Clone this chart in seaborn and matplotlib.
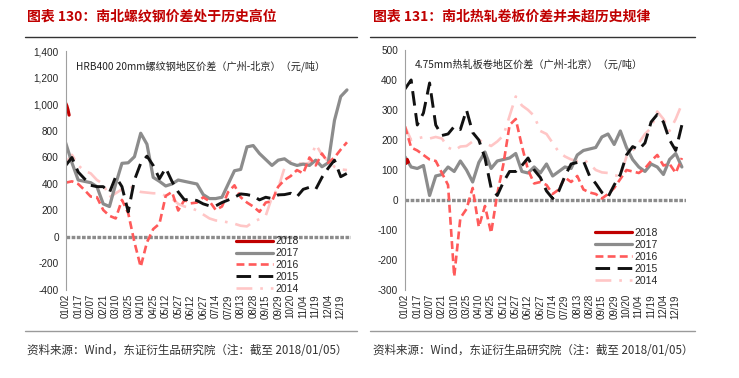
import numpy as np
import pandas as pd
import matplotlib
matplotlib.use("Agg")
import matplotlib.pyplot as plt
from matplotlib.lines import Line2D
import seaborn as sns

# ------------------------------------------------------------------
# Data. One sample every half tick interval,
# i.e. about every 5.5 trading days; ticks every 11 trading days.
# ------------------------------------------------------------------
tick_labels = ["01/02", "01/17", "02/07", "02/21", "03/10", "03/25", "04/10", "04/25",
               "05/12", "05/27", "06/12", "06/27", "07/14", "07/29", "08/13", "08/28",
               "09/15", "09/29", "10/20", "11/04", "11/19", "12/04", "12/19"]
years = ["2018", "2017", "2016", "2015", "2014"]

# 2018 only has the first four trading days
days_2018 = [0, 1, 2, 3]

# rebar spread (Guangzhou - Beijing), yuan/t
rebar_2018 = [1010, 990, 960, 920]
rebar_2017 = [710, 560, 430, 420, 410, 380, 250, 230, 400, 556, 560, 606, 783, 700, 450, 420,
              385, 400, 430, 420, 410, 400, 320, 290, 290, 300, 400, 500, 510, 680, 690, 630,
              585, 540, 580, 590, 556, 540, 550, 540, 580, 530, 560, 880, 1060, 1110]
rebar_2016 = [410, 420, 400, 355, 305, 300, 204, 160, 140, 280, 180, -40, -225, -40, 60, 100,
              310, 340, 200, 280, 254, 260, 300, 270, 204, 230, 340, 390, 300, 260, 230, 190,
              260, 270, 380, 430, 460, 505, 480, 600, 540, 630, 560, 600, 660, 715]
rebar_2015 = [540, 600, 490, 440, 390, 380, 380, 335, 455, 380, 190, 430, 556, 610, 540, 440,
              520, 420, 340, 280, 285, 275, 250, 235, 235, 260, 279, 300, 325, 320, 310, 280,
              300, 290, 318, 320, 330, 304, 360, 375, 360, 450, 520, 580, 455, 480]
rebar_2014 = [560, 620, 540, 500, 480, 430, 400, 300, 330, 360, 380, 370, 340, 335, 330, 330,
              310, 290, 250, 230, 220, 200, 170, 140, 125, 120, 110, 100, 85, 80, 115, 135,
              160, 300, 370, 520, 570, 560, 550, 560, 700, 620, 570, 530, 510, 505]

# hot rolled coil spread (Guangzhou - Beijing), yuan/t
hrc_2018 = [130, 122, 135, 126]
hrc_2017 = [144, 110, 105, 115, 15, 80, 85, 110, 95, 130, 100, 60, 125, 160, 105, 130,
            135, 140, 155, 95, 90, 110, 90, 120, 80, 95, 110, 105, 150, 165, 170, 175,
            210, 220, 185, 230, 175, 135, 110, 95, 120, 110, 85, 135, 155, 110]
hrc_2016 = [245, 175, 165, 150, 135, 130, 90, 50, -255, -60, -30, 40, -90, -20, -110, 20,
            120, 250, 270, 180, 100, 55, 60, 50, 20, 35, 75, 60, 80, 35, 25, 20,
            5, 20, 40, 70, 100, 95, 90, 105, 130, 150, 115, 120, 90, 140]
hrc_2015 = [370, 400, 250, 290, 390, 250, 215, 220, 245, 235, 300, 225, 200, 140, 40, 15,
            60, 95, 95, 115, 140, 100, 75, 30, 5, 30, 80, 120, 125, 130, 80, 55,
            25, 10, 50, 85, 150, 178, 168, 190, 260, 285, 260, 200, 165, 250]
hrc_2014 = [245, 200, 205, 210, 205, 210, 205, 175, 165, 178, 180, 195, 200, 190, 180, 195,
            215, 280, 345, 315, 300, 280, 230, 220, 190, 160, 145, 135, 130, 135, 120, 100,
            92, 90, 82, 80, 145, 165, 190, 220, 240, 295, 270, 230, 270, 320]

days = np.arange(len(rebar_2017)) * 5.5
tick_pos = np.arange(len(tick_labels)) * 11

styles = {
    "2018": dict(color="#C00000", linewidth=2.3, linestyle="-"),
    "2017": dict(color="#8C8C8C", linewidth=2.3, linestyle="-"),
    "2016": dict(color="#FF5A5A", linewidth=1.9, linestyle=(0, (3, 1.6))),
    "2015": dict(color="#111111", linewidth=2.1, linestyle=(0, (5, 2.6))),
    "2014": dict(color="#FFC6C6", linewidth=1.9, linestyle=(0, (6, 3, 1, 3))),
}
draw_order = ["2014", "2017", "2016", "2015", "2018"]

sns.set_style("white")
plt.rcParams["font.family"] = ["Liberation Sans", "Noto Sans CJK SC"]
cjk = ["Noto Sans CJK SC", "DejaVu Sans"]


def draw_panel(ax, series, ylim, ystep, note, comma, legend_anchor):
    df = pd.concat(
        [pd.DataFrame({"day": days_2018 if y == "2018" else days, "value": v, "year": y})
         for y, v in series.items()],
        ignore_index=True)
    for y in draw_order:
        sub = df[df["year"] == y]
        sns.lineplot(data=sub, x="day", y="value", ax=ax, label=y, **styles[y])
    ax.axhline(0, color="#8C8C8C", linewidth=2.4, linestyle=(0, (1.1, 0.45)), zorder=1)

    ax.set_xlim(0, 251)
    ax.set_ylim(*ylim)
    ax.set_xticks(tick_pos)
    ax.set_xticklabels(tick_labels, rotation=90, fontsize=7)
    yt = np.arange(ylim[0], ylim[1] + 1, ystep)
    ax.set_yticks(yt)
    ax.set_yticklabels([f"{v:,}" if comma else f"{v}" for v in yt], fontsize=7.2)
    ax.tick_params(axis="x", length=0, pad=3)
    ax.tick_params(axis="y", length=3, width=0.8, color="#A0A0A0", pad=2, direction="out")
    ax.set_xlabel("")
    ax.set_ylabel("")
    for s in ["top", "right", "bottom"]:
        ax.spines[s].set_visible(False)
    ax.spines["left"].set_color("#A0A0A0")
    ax.spines["left"].set_linewidth(0.8)

    ax.text(0.035, 0.94, note, transform=ax.transAxes, fontsize=7.3, family=cjk,
            color="#222222", va="center", ha="left")

    handles, labels = ax.get_legend_handles_labels()
    lookup = dict(zip(labels, handles))
    ax.legend([lookup[y] for y in years], years, loc="lower left",
              bbox_to_anchor=legend_anchor, frameon=False, fontsize=7.5,
              handlelength=3.5, handletextpad=0.3, labelspacing=0.18,
              borderpad=0.2, borderaxespad=0.0)


fig = plt.figure(figsize=(7.39, 3.78), dpi=100)
ax1 = fig.add_axes([0.0889, 0.2328, 0.386, 0.631])
ax2 = fig.add_axes([0.548, 0.2328, 0.380, 0.635])

draw_panel(ax1,
           {"2018": rebar_2018, "2017": rebar_2017, "2016": rebar_2016,
            "2015": rebar_2015, "2014": rebar_2014},
           (-400, 1400), 200,
           "HRB400 20mm螺纹钢地区价差（广州-北京）（元/吨）", True, (0.59, -0.025))
draw_panel(ax2,
           {"2018": hrc_2018, "2017": hrc_2017, "2016": hrc_2016,
            "2015": hrc_2015, "2014": hrc_2014},
           (-300, 500), 100,
           "4.75mm热轧板卷地区价差（广州-北京）（元/吨）", False, (0.67, 0.01))

# titles, rules and source lines
fig.text(0.037, 0.955, "图表 130：南北螺纹钢价差处于历史高位", fontsize=10, fontweight="bold",
         color="#C00000", family=cjk, va="center", ha="left")
fig.text(0.505, 0.955, "图表 131：南北热轧卷板价差并未超历史规律", fontsize=10, fontweight="bold",
         color="#C00000", family=cjk, va="center", ha="left")
for x0, x1 in [(25, 357), (370, 695)]:
    fig.add_artist(Line2D([x0 / 739, x1 / 739], [1 - 37 / 378] * 2, color="#333333",
                          linewidth=1.0, transform=fig.transFigure))
    fig.add_artist(Line2D([x0 / 739, x1 / 739], [1 - 331 / 378] * 2, color="#9A9A9A",
                          linewidth=1.0, transform=fig.transFigure))
source = "资料来源：Wind，东证衍生品研究院（注：截至 2018/01/05）"
fig.text(0.037, 1 - 350 / 378, source, fontsize=8.3, color="#333333", family=cjk,
         va="center", ha="left")
fig.text(0.505, 1 - 350 / 378, source, fontsize=8.3, color="#333333", family=cjk,
         va="center", ha="left")

fig.savefig("out.png", dpi=100)
